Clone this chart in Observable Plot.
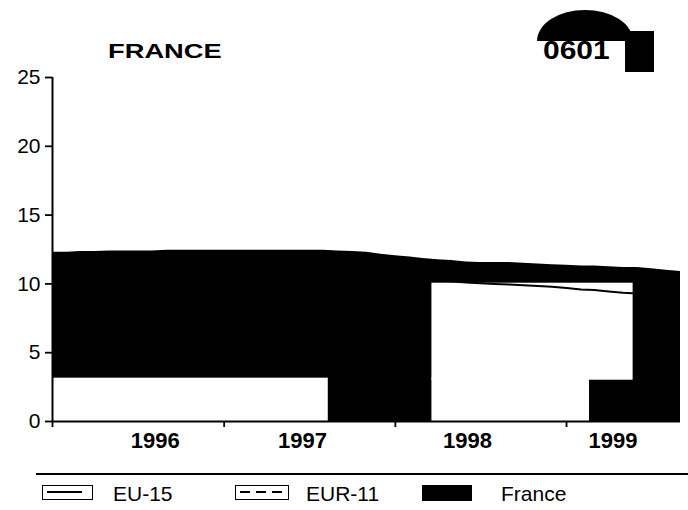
<!DOCTYPE html>
<html><head><meta charset="utf-8">
<script src="https://cdn.jsdelivr.net/npm/d3@7"></script>
<script src="https://cdn.jsdelivr.net/npm/@observablehq/plot@0.6"></script>
<style>
body{margin:0;background:#fff;font-family:"Liberation Sans",Arial,sans-serif;color:#000;}
#wrap{position:relative;width:688px;height:510px;overflow:hidden;background:#fff;}
#chart{position:absolute;left:0;top:0;}
.abs{position:absolute;white-space:nowrap;}
.title{left:108px;top:39.5px;font-size:21px;line-height:21px;font-weight:bold;transform:scaleX(1.3);transform-origin:left center;}
.stamp{left:543px;top:38px;font-size:25px;line-height:25px;font-weight:bold;transform:scaleX(1.2);transform-origin:left center;}
.dome{left:537px;top:10px;width:96px;height:31px;overflow:hidden;}
.dome div{width:96px;height:62px;border-radius:50%;background:#000;}
.blk{left:625px;top:31px;width:29px;height:41px;background:#000;}
.rule{left:36px;top:473px;width:652px;height:2px;background:#000;}
.box{top:485px;height:15px;border:1.5px solid #000;box-sizing:border-box;}
.leg{top:482.5px;font-size:21px;line-height:21px;}
.dash{left:240px;top:491px;width:42px;height:1.5px;background:repeating-linear-gradient(to right,#000 0,#000 10px,transparent 10px,transparent 16px);}
</style></head><body>
<div id="wrap">
  <div id="chart"></div>
  <div class="abs title">FRANCE</div>
  <div class="abs dome"><div></div></div>
  <div class="abs blk"></div>
  <div class="abs stamp">0601</div>
  <div class="abs rule"></div>
  <div class="abs box" style="left:42px;width:51px;"></div>
  <div class="abs" style="left:47px;top:490.5px;width:35px;height:2px;background:#000;"></div>
  <div class="abs leg" style="left:113px;">EU-15</div>
  <div class="abs box" style="left:235px;width:54px;"></div>
  <div class="abs dash"></div>
  <div class="abs leg" style="left:306px;">EUR-11</div>
  <div class="abs" style="left:422px;top:485px;width:50px;height:16px;background:#000;"></div>
  <div class="abs leg" style="left:501px;">France</div>
</div>
<script>
// Tick labels / categories
const yearLabels = ["1996", "1997", "1998", "1999"];
const yearLabelDates = ["1996-08-07", "1997-06-17", "1998-06-04", "1999-04-10"];
const yTicks = [0, 5, 10, 15, 20, 25];

// Monthly values, Jan 1996 .. Sep 1999
const france = [
  12.3, 12.3, 12.35, 12.35, 12.4, 12.4, 12.4, 12.4, 12.45, 12.45, 12.45, 12.45,
  12.45, 12.45, 12.45, 12.45, 12.45, 12.45, 12.45, 12.45, 12.4, 12.35, 12.3, 12.15,
  12.05, 11.95, 11.85, 11.75, 11.7, 11.6, 11.55, 11.55, 11.55, 11.5, 11.45, 11.4,
  11.35, 11.3, 11.3, 11.25, 11.2, 11.2, 11.1, 11.0, 10.9
];
const eu15 = [
  10.8, 10.8, 10.8, 10.8, 10.8, 10.8, 10.8, 10.8, 10.8, 10.8, 10.8, 10.8,
  10.8, 10.8, 10.7, 10.7, 10.7, 10.6, 10.6, 10.6, 10.5, 10.5, 10.5, 10.4,
  10.4, 10.3, 10.3, 10.25, 10.2, 10.1, 10.05, 10.0, 9.95, 9.9, 9.85, 9.8,
  9.7, 9.6, 9.55, 9.45, 9.35, 9.3, 9.3, 9.25, 9.2
];
const eur11 = [
  11.5, 11.5, 11.5, 11.55, 11.55, 11.6, 11.6, 11.6, 11.6, 11.6, 11.6, 11.6,
  11.6, 11.6, 11.6, 11.55, 11.5, 11.5, 11.45, 11.45, 11.4, 11.35, 11.3, 11.3,
  11.2, 11.15, 11.1, 11.05, 11.0, 10.95, 10.9, 10.85, 10.8, 10.75, 10.7, 10.7,
  10.6, 10.55, 10.5, 10.45, 10.4, 10.35, 10.3, 10.25, 10.2
];

// Blank (unprinted) patches of the scanned page, in data units
const gapStart = ["1996-01-01", "1998-03-20", "1998-03-20"];
const gapEnd   = ["1997-08-11", "1999-02-19", "1999-05-23"];
const gapLow   = [0, 0, 3.0];
const gapHigh  = [3.15, 3.15, 10.05];

const months = d3.utcMonth.range(new Date(Date.UTC(1996, 0, 1)), new Date(Date.UTC(1999, 9, 1)));
const rows = months.map((d, i) => ({date: d, france: france[i], eu15: eu15[i], eur11: eur11[i]}));
const gaps = gapStart.map((s, i) => ({x1: new Date(s), x2: new Date(gapEnd[i]), y1: gapLow[i], y2: gapHigh[i]}));
const yearMid = yearLabels.map((y, i) => ({label: y, date: new Date(yearLabelDates[i])}));
const yearStarts = yearLabels.map(y => new Date(Date.UTC(+y, 0, 1)));

const chart = Plot.plot({
  width: 688, height: 460,
  marginLeft: 52, marginRight: 8, marginTop: 77, marginBottom: 39,
  style: {fontFamily: '"Liberation Sans", Arial, sans-serif', fontSize: "21px", background: "transparent", color: "black"},
  x: {type: "utc", domain: [months[0], months[months.length - 1]], axis: null},
  y: {domain: [0, 25], axis: null},
  marks: [
    Plot.areaY(rows, {x: "date", y: "france", fill: "black"}),
    Plot.rect(gaps, {x1: "x1", x2: "x2", y1: "y1", y2: "y2", fill: "white"}),
    Plot.lineY(rows, {x: "date", y: "eur11", stroke: "black", strokeWidth: 1.5, strokeDasharray: "5,3", clip: true}),
    Plot.lineY(rows, {x: "date", y: "eu15", stroke: "black", strokeWidth: 2, clip: true}),
    Plot.ruleY([0], {stroke: "black", strokeWidth: 2}),
    Plot.ruleX([months[0]], {y1: 0, y2: 25, stroke: "black", strokeWidth: 2}),
    Plot.axisY(yTicks, {tickSize: 7, tickPadding: 5, strokeWidth: 1.8, fontSize: 21, tickFormat: d => String(d)}),
    Plot.axisX(yearStarts, {tickSize: 6, strokeWidth: 1.8, tickFormat: () => ""}),
    Plot.text(yearMid, {x: "date", y: () => 0, text: "label", dy: 19, fontSize: 22, fontWeight: "bold"})
  ]
});
document.getElementById("chart").appendChild(chart);
</script>
</body></html>
